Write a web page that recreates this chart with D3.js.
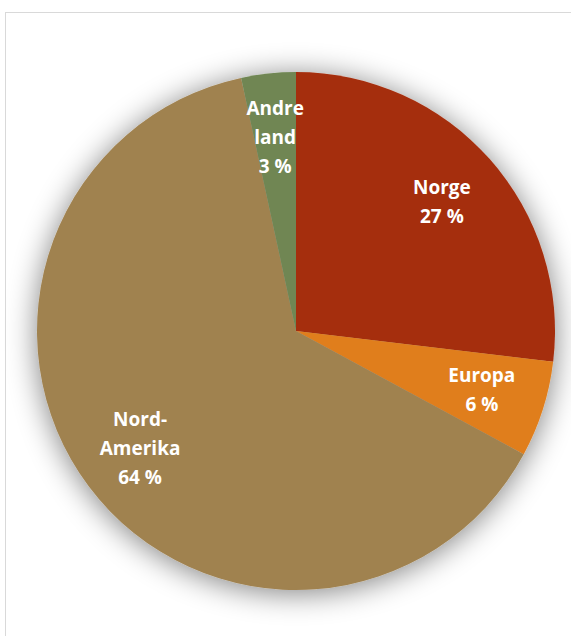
<!DOCTYPE html>
<html><head><meta charset="utf-8">
<script src="https://cdn.jsdelivr.net/npm/d3@7"></script>
<style>html,body{margin:0;padding:0;background:#fff;}svg{display:block;}</style>
</head><body>
<svg id="c" width="571" height="636"></svg>
<script>
const categories = ["Norge", "Europa", "Nord-Amerika", "Andre land"];
const values = [26.9, 6.0, 63.7, 3.4];
const labelLines = [["Norge", "27 %"], ["Europa", "6 %"], ["Nord-", "Amerika", "64 %"], ["Andre", "land", "3 %"]];
const colors = ["#A52F0F", "#E07E1C", "#A08250", "#6F8653"];

const svg = d3.select("#c");
const cx = 296, cy = 331, R = 259, LR = 195;

svg.append("rect").attr("x", 5.5).attr("y", 12.5).attr("width", 600).attr("height", 700)
  .attr("fill", "#fff").attr("stroke", "#d9d9d9").attr("stroke-width", 1);

const defs = svg.append("defs");
const f = defs.append("filter").attr("id", "sh").attr("x", "-30%").attr("y", "-30%").attr("width", "160%").attr("height", "160%");
f.append("feGaussianBlur").attr("in", "SourceAlpha").attr("stdDeviation", 15).attr("result", "b");
f.append("feOffset").attr("in", "b").attr("dx", 0).attr("dy", 3).attr("result", "o");
f.append("feComponentTransfer").attr("in", "o").attr("result", "s")
  .append("feFuncA").attr("type", "linear").attr("slope", 0.5);
const m = f.append("feMerge");
m.append("feMergeNode").attr("in", "s");
m.append("feMergeNode").attr("in", "SourceGraphic");

const data = categories.map((c, i) => ({ cat: c, value: values[i], lines: labelLines[i], color: colors[i] }));
const pie = d3.pie().value(d => d.value).sort(null);
const arc = d3.arc().innerRadius(0).outerRadius(R);
const labelArc = d3.arc().innerRadius(LR).outerRadius(LR);
const arcs = pie(data);

const g = svg.append("g").attr("transform", `translate(${cx},${cy})`);
g.append("g").attr("filter", "url(#sh)").selectAll("path").data(arcs).join("path")
  .attr("d", arc).attr("fill", d => d.data.color);

const lh = 29;
const lab = g.append("g").selectAll("text").data(arcs).join("text")
  .attr("transform", d => { const [x, y] = labelArc.centroid(d); return `translate(${x},${y})`; })
  .attr("text-anchor", "middle")
  .attr("font-family", "'Open Sans', sans-serif").attr("font-weight", "bold").attr("font-size", 19)
  .attr("fill", "#fff");
lab.each(function (d) {
  const n = d.data.lines.length;
  d3.select(this).selectAll("tspan").data(d.data.lines).join("tspan")
    .attr("x", 0).attr("y", (t, i) => (i - (n - 1) / 2) * lh).attr("dy", "0.35em").text(t => t);
});
</script>
</body></html>
